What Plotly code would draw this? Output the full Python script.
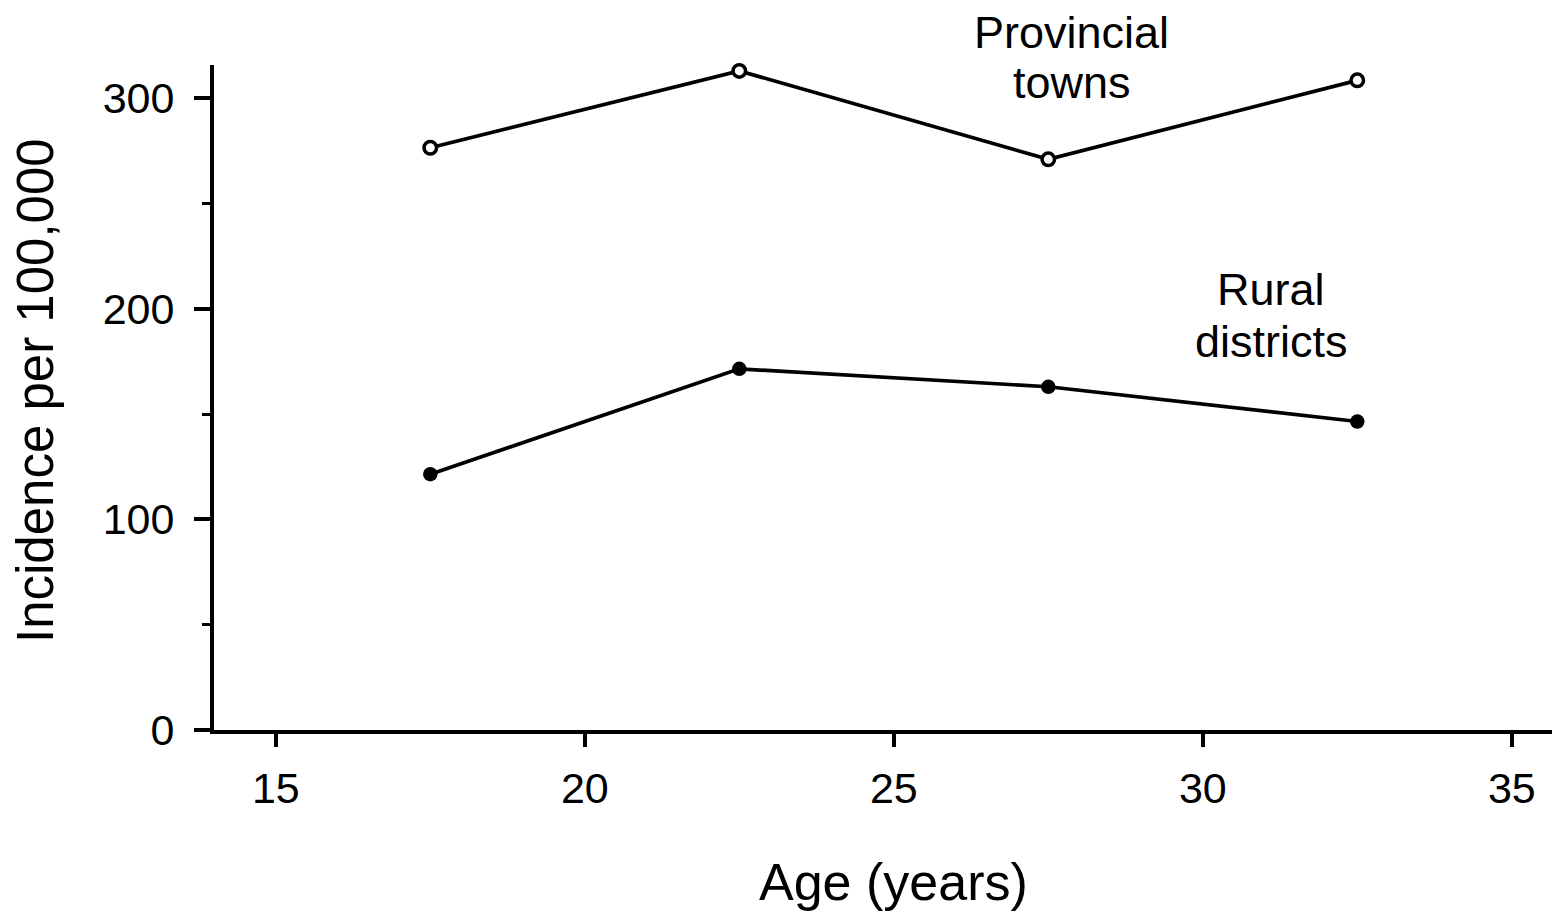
import plotly.graph_objects as go

ages = [17.5, 22.5, 27.5, 32.5]
provincial_towns = [276.5, 313, 271, 308.5]
rural_districts = [121.5, 171.5, 163, 146.5]

x_ticks = [15, 20, 25, 30, 35]
y_ticks = [0, 100, 200, 300]

x_title = "Age (years)"
y_title = "Incidence per 100,000"

label_lines = [
    ("Provincial", 0.6374, 1.0496),
    ("towns", 0.6374, 0.9730),
    ("Rural", 0.7853, 0.6617),
    ("districts", 0.7853, 0.5835),
]

FONT = "Liberation Sans, Arial, sans-serif"

fig = go.Figure()
fig.add_trace(go.Scatter(
    x=ages, y=provincial_towns, mode="lines+markers",
    line=dict(color="black", width=3.7),
    marker=dict(symbol="circle", size=12.5, color="white",
                line=dict(color="black", width=3.5)),
    cliponaxis=False, showlegend=False))
fig.add_trace(go.Scatter(
    x=ages, y=rural_districts, mode="lines+markers",
    line=dict(color="black", width=3.7),
    marker=dict(symbol="circle", size=14.5, color="black",
                line=dict(color="black", width=0)),
    cliponaxis=False, showlegend=False))

for txt, px, py in label_lines:
    fig.add_annotation(x=px, y=py, xref="paper", yref="paper",
                       text=txt, showarrow=False, borderpad=0,
                       xanchor="center", yanchor="middle",
                       font=dict(family=FONT, size=45, color="black"))

# axis titles placed as annotations for exact positioning
fig.add_annotation(x=0.5048, y=-0.2286, xref="paper", yref="paper",
                   text=x_title, showarrow=False, borderpad=0,
                   xanchor="center", yanchor="middle",
                   font=dict(family=FONT, size=52, color="black"))
fig.add_annotation(x=-0.1326, y=0.5105, xref="paper", yref="paper",
                   text=y_title, showarrow=False, borderpad=0, textangle=-90,
                   xanchor="center", yanchor="middle",
                   font=dict(family=FONT, size=51, color="black"))

fig.update_xaxes(
    range=[14, 35.78], tickvals=x_ticks, ticktext=[str(v) for v in x_ticks],
    showline=True, linecolor="black", linewidth=4,
    ticks="outside", ticklen=13, tickwidth=3.5, tickcolor="black",
    showgrid=False, zeroline=False,
    tickfont=dict(family=FONT, size=43, color="black"),
    ticklabelstandoff=4)
fig.update_yaxes(
    range=[0, 315.8], tickvals=y_ticks, ticktext=[str(v) for v in y_ticks],
    showline=True, linecolor="black", linewidth=4,
    ticks="outside", ticklen=16, tickwidth=3.5, tickcolor="black",
    minor=dict(dtick=50, tick0=0, ticks="outside", ticklen=8, tickwidth=2.5, tickcolor="black"),
    showgrid=False, zeroline=False,
    tickfont=dict(family=FONT, size=43, color="black"),
    ticklabelstandoff=11)

fig.update_layout(
    width=1560, height=911,
    margin=dict(l=206, r=8, t=57, b=189),
    paper_bgcolor="white", plot_bgcolor="white",
    font=dict(family=FONT, color="black"))

fig.write_html("out.html")
